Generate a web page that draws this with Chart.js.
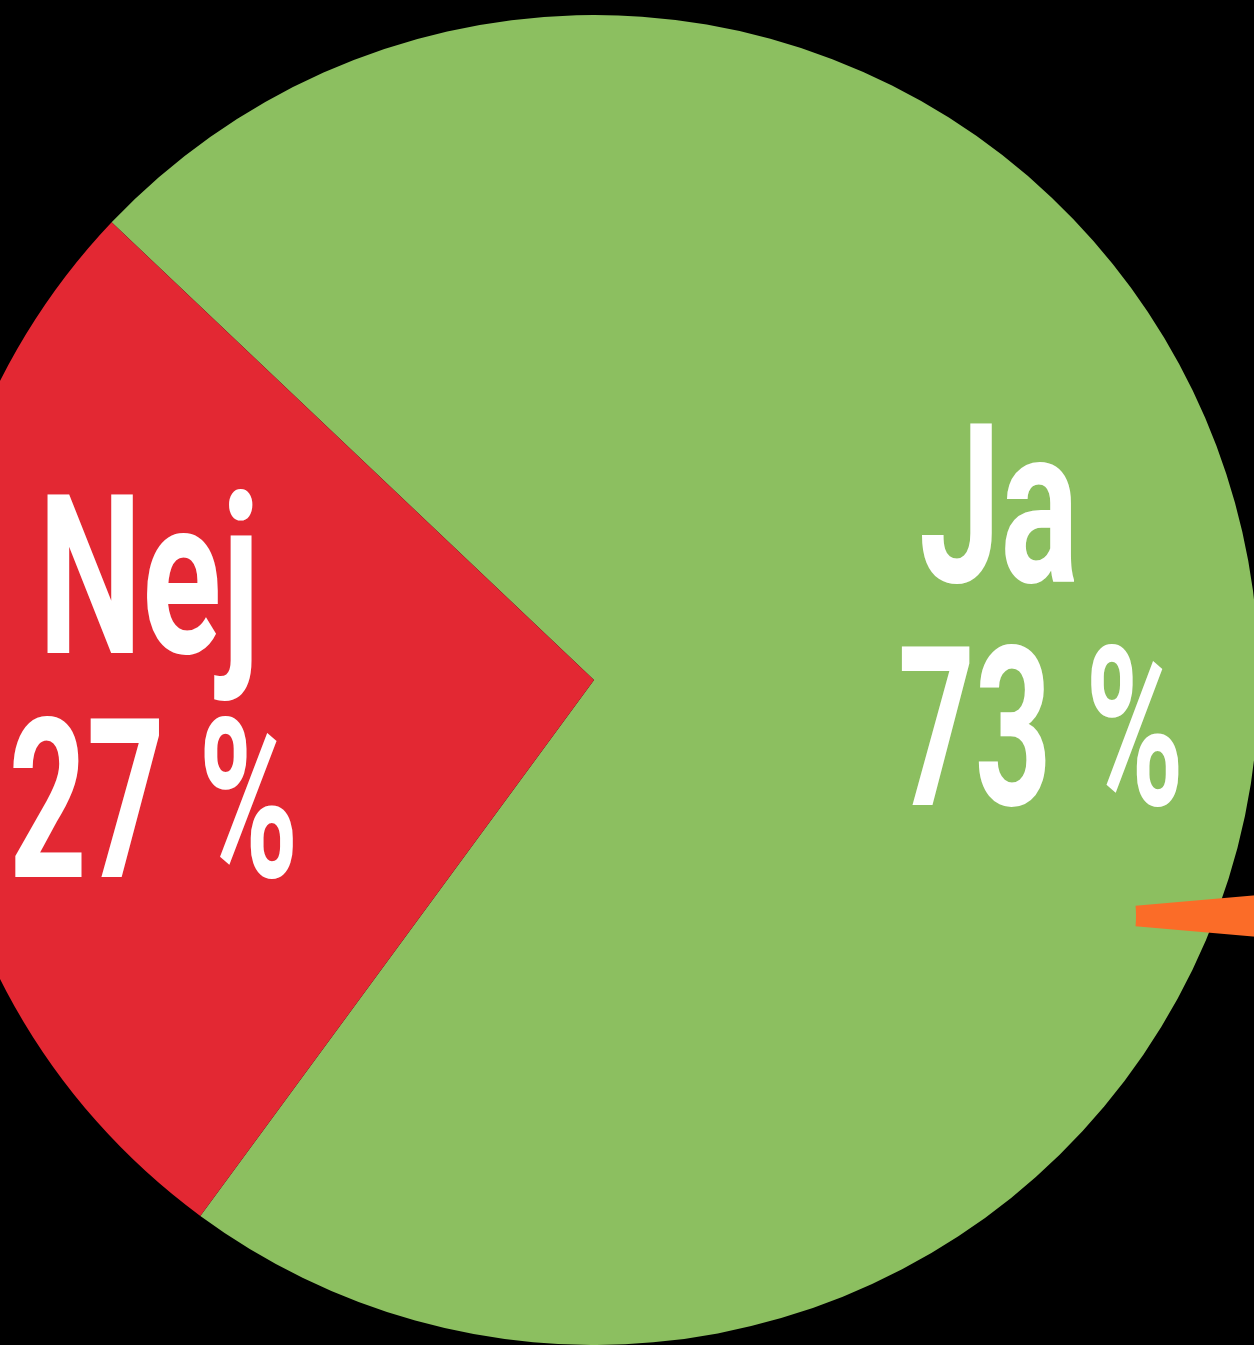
<!DOCTYPE html>
<html>
<head>
<meta charset="utf-8">
<script src="https://cdn.jsdelivr.net/npm/chart.js@4.4.1/dist/chart.umd.min.js"></script>
<style>
  html, body { margin: 0; padding: 0; background: #000; width: 1254px; height: 1345px; overflow: hidden; }
  #pieBox { position: absolute; left: -71px; top: 15px; width: 1330px; height: 1330px; }
  #markBox { position: absolute; left: 720px; top: 616px; width: 600px; height: 600px; }
</style>
</head>
<body>
<div id="pieBox"><canvas id="pie" width="1330" height="1330"></canvas></div>
<div id="markBox"><canvas id="mark" width="600" height="600"></canvas></div>
<script>
// answers
var categories = ['Ja', 'Nej'];
var shares = [73, 27];
var sliceColors = ['#8cbf60', '#e32833'];
var valueLabels = ['73 %', '27 %'];

// small orange marker wedge on the right
var markerShare = [2.8, 97.2];
var markerColors = ['#fb6c28', 'rgba(0,0,0,0)'];

// label layout, relative to pie centre: [dx of centre, baseline dy, ink width]
var labelLayout = [
  { name: [404, -98, 153], value: [446, 125, 277] },
  { name: [-444, -27, 205], value: [-441, 197, 280] }
];
var capHeight = 161;

function drawSqueezed(ctx, text, cx, baseY, inkW) {
  ctx.save();
  ctx.font = '700 100px Roboto, "Liberation Sans", sans-serif';
  var h = ctx.measureText('H').actualBoundingBoxAscent;
  var size = 100 * capHeight / h;
  ctx.font = '700 ' + size + 'px Roboto, "Liberation Sans", sans-serif';
  ctx.textAlign = 'left';
  ctx.textBaseline = 'alphabetic';
  var m = ctx.measureText(text);
  var w = m.actualBoundingBoxLeft + m.actualBoundingBoxRight;
  var sx = inkW / w;
  ctx.translate(cx - inkW / 2, baseY);
  ctx.scale(sx, 1);
  ctx.fillStyle = '#ffffff';
  ctx.fillText(text, m.actualBoundingBoxLeft, 0);
  ctx.restore();
}

var labelPlugin = {
  id: 'sliceLabels',
  afterDraw: function(chart) {
    var arc = chart.getDatasetMeta(0).data[0];
    var ctx = chart.ctx;
    labelLayout.forEach(function(l, i) {
      drawSqueezed(ctx, categories[i], arc.x + l.name[0], arc.y + l.name[1], l.name[2]);
      drawSqueezed(ctx, valueLabels[i], arc.x + l.value[0], arc.y + l.value[1], l.value[2]);
    });
  }
};

new Chart(document.getElementById('pie'), {
  type: 'pie',
  data: {
    labels: categories,
    datasets: [{
      data: shares,
      backgroundColor: sliceColors,
      borderWidth: 0
    }]
  },
  options: {
    responsive: false,
    animation: false,
    events: [],
    rotation: -46.5,
    layout: { padding: 0 },
    plugins: { legend: { display: false }, tooltip: { enabled: false } }
  },
  plugins: [labelPlugin]
});

new Chart(document.getElementById('mark'), {
  type: 'doughnut',
  data: {
    labels: ['', ''],
    datasets: [{
      data: markerShare,
      backgroundColor: markerColors,
      borderWidth: 0
    }]
  },
  options: {
    responsive: false,
    animation: false,
    events: [],
    cutout: 116,
    rotation: 90 - markerShare[0] * 3.6 / 2,
    layout: { padding: 0 },
    plugins: { legend: { display: false }, tooltip: { enabled: false } }
  }
});
</script>
</body>
</html>
